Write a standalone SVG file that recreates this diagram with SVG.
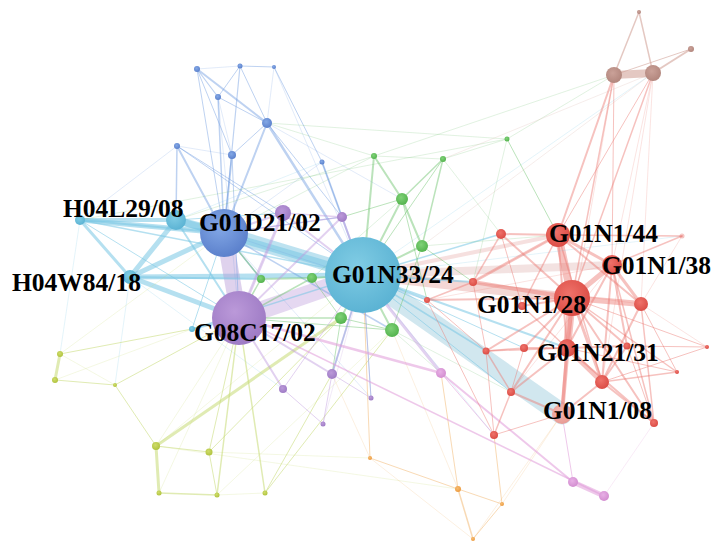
<svg xmlns="http://www.w3.org/2000/svg" width="714" height="542" viewBox="0 0 714 542">
<defs>
<radialGradient id="gBlue" cx=".42" cy=".38" r=".65"><stop offset="0" stop-color="#83a8e6"/><stop offset="1" stop-color="#5a7fcb"/></radialGradient>
<radialGradient id="gTeal" cx=".42" cy=".38" r=".65"><stop offset="0" stop-color="#80cce4"/><stop offset="1" stop-color="#5ab2d3"/></radialGradient>
<radialGradient id="gPur" cx=".42" cy=".38" r=".65"><stop offset="0" stop-color="#bb99d9"/><stop offset="1" stop-color="#9d7ac4"/></radialGradient>
<radialGradient id="gPink" cx=".42" cy=".38" r=".65"><stop offset="0" stop-color="#e8b0e6"/><stop offset="1" stop-color="#d28ccf"/></radialGradient>
<radialGradient id="gGreen" cx=".42" cy=".38" r=".65"><stop offset="0" stop-color="#80d278"/><stop offset="1" stop-color="#52b24c"/></radialGradient>
<radialGradient id="gYel" cx=".42" cy=".38" r=".65"><stop offset="0" stop-color="#cfdc6a"/><stop offset="1" stop-color="#afc23c"/></radialGradient>
<radialGradient id="gOra" cx=".42" cy=".38" r=".65"><stop offset="0" stop-color="#f6bb70"/><stop offset="1" stop-color="#ec9a3e"/></radialGradient>
<radialGradient id="gRed" cx=".42" cy=".38" r=".65"><stop offset="0" stop-color="#ef726a"/><stop offset="1" stop-color="#da4b44"/></radialGradient>
<radialGradient id="gLRed" cx=".42" cy=".38" r=".65"><stop offset="0" stop-color="#f4b8b2"/><stop offset="1" stop-color="#e89a93"/></radialGradient>
<radialGradient id="gBr" cx=".42" cy=".38" r=".65"><stop offset="0" stop-color="#caa198"/><stop offset="1" stop-color="#b1857c"/></radialGradient>
</defs>
<style>
line{fill:none;stroke-linecap:round}
.eb{stroke:#6e9be0;stroke-opacity:.45}
.et{stroke:#79c6e4;stroke-opacity:.55}
.eg{stroke:#68c068;stroke-opacity:.45}
.ey{stroke:#c6da74;stroke-opacity:.55}
.eo{stroke:#f2b46a;stroke-opacity:.5}
.ep{stroke:#bf98de;stroke-opacity:.45}
.epk{stroke:#e09ad8;stroke-opacity:.55}
.er{stroke:#ec7870;stroke-opacity:.45}
.ebr{stroke:#d2a49a;stroke-opacity:.6}
.f{stroke-opacity:.2}
.nb{fill:url(#gBlue)}.nt{fill:url(#gTeal)}.np{fill:url(#gPur)}.npk{fill:url(#gPink)}
.ng{fill:url(#gGreen)}.ny{fill:url(#gYel)}.no{fill:url(#gOra)}.nr{fill:url(#gRed)}
.nl{fill:url(#gLRed)}.nbr{fill:url(#gBr)}
.lab{font-family:"Liberation Serif","Times New Roman",serif;font-weight:bold;font-size:25.5px;fill:#000}
</style>
<rect width="714" height="542" fill="#fff"/>
<g id="connectors">
<line x1="363" y1="275" x2="562" y2="414" stroke="#b3d7e5" stroke-opacity=".6" stroke-width="21"/>
<line x1="363" y1="275" x2="224" y2="233" stroke="#7cc6e2" stroke-opacity=".5" stroke-width="14"/>
<line x1="363" y1="275" x2="176" y2="220" class="et" stroke-width="7"/>
<line x1="363" y1="275" x2="130" y2="277" class="et" stroke-width="5"/>
<line x1="363" y1="275" x2="239" y2="318" stroke="#c6a8e0" stroke-opacity=".45" stroke-width="18"/>
<line x1="224" y1="233" x2="239" y2="318" stroke="#b99cd8" stroke-opacity=".45" stroke-width="16"/>
<line x1="224" y1="233" x2="176" y2="220" class="et" stroke-width="8"/>
<line x1="224" y1="233" x2="80" y2="220" class="et" stroke-width="5"/>
<line x1="80" y1="220" x2="176" y2="220" class="et" stroke-width="4"/>
<line x1="176" y1="220" x2="130" y2="277" class="et" stroke-width="5"/>
<line x1="130" y1="277" x2="224" y2="233" class="et" stroke-width="5"/>
<line x1="130" y1="277" x2="239" y2="318" class="et" stroke-width="5"/>
<line x1="80" y1="220" x2="130" y2="277" class="et" stroke-width="3"/>
<line x1="363" y1="275" x2="572" y2="298" stroke="#e6a6a2" stroke-opacity=".45" stroke-width="10"/>
<line x1="363" y1="275" x2="612" y2="265" stroke="#e2b6b4" stroke-opacity=".4" stroke-width="8"/>
<line x1="363" y1="275" x2="558" y2="235" stroke="#e6a6a2" stroke-opacity=".35" stroke-width="4"/>
<line x1="558" y1="235" x2="572" y2="298" class="er" stroke-width="8"/>
<line x1="572" y1="298" x2="567" y2="348" class="er" stroke-width="8"/>
<line x1="572" y1="298" x2="641" y2="304" class="er" stroke-width="6"/>
<line x1="572" y1="298" x2="612" y2="265" class="er" stroke-width="5"/>
<line x1="567" y1="348" x2="602" y2="382" class="er" stroke-width="5"/>
<line x1="614" y1="75" x2="653" y2="73" class="ebr" stroke-width="8"/>
<line x1="573" y1="482" x2="604" y2="496" class="epk" stroke-width="5"/>
<line x1="60" y1="354" x2="55" y2="380" class="ey" stroke-width="3"/>
<line x1="156" y1="446" x2="159" y2="493" class="ey" stroke-width="3"/>
<line x1="156" y1="446" x2="341" y2="318" class="ey" stroke-width="3"/>
<line x1="197" y1="69" x2="240" y2="66" class="eb f" stroke-width="1"/>
<line x1="240" y1="66" x2="274" y2="67" class="eb" stroke-width="1"/>
<line x1="197" y1="69" x2="218" y2="97" class="eb" stroke-width="1.2"/>
<line x1="197" y1="69" x2="267" y2="123" class="eb" stroke-width="2"/>
<line x1="197" y1="69" x2="224" y2="233" class="eb" stroke-width="1"/>
<line x1="197" y1="69" x2="232" y2="155" class="eb" stroke-width="1"/>
<line x1="240" y1="66" x2="218" y2="97" class="eb" stroke-width="1"/>
<line x1="240" y1="66" x2="224" y2="233" class="eb" stroke-width="1.2"/>
<line x1="240" y1="66" x2="267" y2="123" class="eb" stroke-width="1"/>
<line x1="274" y1="67" x2="322" y2="162" class="eb" stroke-width="1"/>
<line x1="274" y1="67" x2="267" y2="123" class="eb f" stroke-width="1"/>
<line x1="274" y1="67" x2="363" y2="275" class="eb f" stroke-width="1"/>
<line x1="218" y1="97" x2="224" y2="233" class="eb" stroke-width="1.5"/>
<line x1="218" y1="97" x2="267" y2="123" class="eb" stroke-width="1"/>
<line x1="218" y1="97" x2="239" y2="318" class="eb f" stroke-width="1"/>
<line x1="267" y1="123" x2="224" y2="233" class="eb" stroke-width="2"/>
<line x1="267" y1="123" x2="363" y2="275" class="eb" stroke-width="2.5"/>
<line x1="267" y1="123" x2="232" y2="155" class="eb" stroke-width="1"/>
<line x1="267" y1="123" x2="402" y2="199" class="eb f" stroke-width="1"/>
<line x1="267" y1="123" x2="342" y2="217" class="eb" stroke-width="1"/>
<line x1="267" y1="123" x2="507" y2="139" class="eg f" stroke-width="1"/>
<line x1="177" y1="146" x2="224" y2="233" class="eb" stroke-width="2"/>
<line x1="177" y1="146" x2="176" y2="220" class="eb" stroke-width="1.5"/>
<line x1="177" y1="146" x2="232" y2="155" class="eb f" stroke-width="1"/>
<line x1="177" y1="146" x2="363" y2="275" class="eb" stroke-width="1"/>
<line x1="177" y1="146" x2="283" y2="213" class="eb" stroke-width="1"/>
<line x1="177" y1="146" x2="80" y2="220" class="eb f" stroke-width="1"/>
<line x1="232" y1="155" x2="224" y2="233" class="eb" stroke-width="2"/>
<line x1="232" y1="155" x2="239" y2="318" class="eb" stroke-width="1"/>
<line x1="232" y1="155" x2="218" y2="97" class="eb f" stroke-width="1"/>
<line x1="322" y1="162" x2="363" y2="275" class="eb" stroke-width="2"/>
<line x1="322" y1="162" x2="342" y2="217" class="eb" stroke-width="1"/>
<line x1="322" y1="162" x2="224" y2="233" class="eb f" stroke-width="1"/>
<line x1="224" y1="233" x2="261" y2="279" class="eb" stroke-width="1.5"/>
<line x1="224" y1="233" x2="342" y2="217" class="eb" stroke-width="1"/>
<line x1="224" y1="233" x2="427" y2="300" class="eb f" stroke-width="1"/>
<line x1="224" y1="233" x2="392" y2="330" class="eb" stroke-width="1.5"/>
<line x1="224" y1="233" x2="371" y2="398" class="eb f" stroke-width="1"/>
<line x1="80" y1="220" x2="363" y2="275" class="et" stroke-width="1.5"/>
<line x1="80" y1="220" x2="239" y2="318" class="et" stroke-width="1"/>
<line x1="176" y1="220" x2="239" y2="318" class="et" stroke-width="2"/>
<line x1="130" y1="277" x2="261" y2="279" class="et" stroke-width="2"/>
<line x1="192" y1="329" x2="224" y2="233" class="et" stroke-width="1"/>
<line x1="192" y1="329" x2="363" y2="275" class="et" stroke-width="1.5"/>
<line x1="192" y1="329" x2="239" y2="318" class="et" stroke-width="2"/>
<line x1="176" y1="220" x2="283" y2="213" class="et" stroke-width="1"/>
<line x1="363" y1="275" x2="473" y2="282" class="et" stroke-width="2"/>
<line x1="363" y1="275" x2="427" y2="300" class="et" stroke-width="1.5"/>
<line x1="363" y1="275" x2="486" y2="351" class="et" stroke-width="1.5"/>
<line x1="363" y1="275" x2="511" y2="392" class="et" stroke-width="1"/>
<line x1="363" y1="275" x2="501" y2="234" class="et" stroke-width="1.5"/>
<line x1="363" y1="275" x2="653" y2="73" class="et f" stroke-width="1"/>
<line x1="363" y1="275" x2="682" y2="236" class="et f" stroke-width="1"/>
<line x1="363" y1="275" x2="567" y2="348" class="et" stroke-width="2"/>
<line x1="363" y1="275" x2="524" y2="348" class="et" stroke-width="1"/>
<line x1="363" y1="275" x2="371" y2="398" class="et" stroke-width="1"/>
<line x1="363" y1="275" x2="332" y2="374" class="et" stroke-width="1.5"/>
<line x1="363" y1="275" x2="494" y2="435" class="et f" stroke-width="1"/>
<line x1="130" y1="277" x2="115" y2="385" class="et f" stroke-width="1"/>
<line x1="80" y1="220" x2="60" y2="354" class="et f" stroke-width="1"/>
<line x1="130" y1="277" x2="283" y2="389" class="et f" stroke-width="1"/>
<line x1="176" y1="220" x2="322" y2="162" class="et f" stroke-width="1"/>
<line x1="80" y1="220" x2="224" y2="233" class="et" stroke-width="2"/>
<line x1="374" y1="156" x2="402" y2="199" class="eg" stroke-width="2"/>
<line x1="374" y1="156" x2="363" y2="275" class="eg" stroke-width="2"/>
<line x1="374" y1="156" x2="443" y2="159" class="eg f" stroke-width="1"/>
<line x1="443" y1="159" x2="507" y2="139" class="eg f" stroke-width="1"/>
<line x1="443" y1="159" x2="402" y2="199" class="eg" stroke-width="1.5"/>
<line x1="443" y1="159" x2="422" y2="246" class="eg" stroke-width="1.5"/>
<line x1="507" y1="139" x2="558" y2="235" class="eg" stroke-width="1"/>
<line x1="507" y1="139" x2="473" y2="282" class="eg f" stroke-width="1"/>
<line x1="402" y1="199" x2="422" y2="246" class="eg" stroke-width="2"/>
<line x1="402" y1="199" x2="363" y2="275" class="eg" stroke-width="2"/>
<line x1="422" y1="246" x2="363" y2="275" class="eg" stroke-width="2"/>
<line x1="422" y1="246" x2="392" y2="330" class="eg" stroke-width="1"/>
<line x1="422" y1="246" x2="473" y2="282" class="eg" stroke-width="1"/>
<line x1="261" y1="279" x2="312" y2="278" class="eg" stroke-width="2"/>
<line x1="312" y1="278" x2="363" y2="275" class="eg" stroke-width="2"/>
<line x1="261" y1="279" x2="224" y2="233" class="eg" stroke-width="1.5"/>
<line x1="341" y1="318" x2="363" y2="275" class="eg" stroke-width="2"/>
<line x1="392" y1="330" x2="363" y2="275" class="eg" stroke-width="2"/>
<line x1="341" y1="318" x2="392" y2="330" class="eg" stroke-width="1"/>
<line x1="402" y1="199" x2="342" y2="217" class="eg" stroke-width="1"/>
<line x1="261" y1="279" x2="239" y2="318" class="eg" stroke-width="1.5"/>
<line x1="312" y1="278" x2="341" y2="318" class="eg" stroke-width="1"/>
<line x1="312" y1="278" x2="239" y2="318" class="eg" stroke-width="1.5"/>
<line x1="341" y1="318" x2="239" y2="318" class="eg" stroke-width="1.5"/>
<line x1="392" y1="330" x2="239" y2="318" class="eg" stroke-width="1"/>
<line x1="392" y1="330" x2="441" y2="373" class="eg f" stroke-width="1"/>
<line x1="374" y1="156" x2="224" y2="233" class="eg f" stroke-width="1"/>
<line x1="374" y1="156" x2="267" y2="123" class="eg f" stroke-width="1"/>
<line x1="402" y1="199" x2="427" y2="300" class="eg" stroke-width="1"/>
<line x1="422" y1="246" x2="558" y2="235" class="eg f" stroke-width="1"/>
<line x1="443" y1="159" x2="501" y2="234" class="eg f" stroke-width="1"/>
<line x1="374" y1="156" x2="176" y2="220" class="eg f" stroke-width="1"/>
<line x1="341" y1="318" x2="332" y2="374" class="eg" stroke-width="1"/>
<line x1="392" y1="330" x2="511" y2="392" class="eg f" stroke-width="1"/>
<line x1="402" y1="199" x2="312" y2="278" class="eg f" stroke-width="1"/>
<line x1="443" y1="159" x2="363" y2="275" class="eg" stroke-width="1"/>
<line x1="507" y1="139" x2="80" y2="220" class="eg f" stroke-width="1"/>
<line x1="60" y1="354" x2="115" y2="385" class="ey f" stroke-width="1"/>
<line x1="55" y1="380" x2="115" y2="385" class="ey" stroke-width="1"/>
<line x1="115" y1="385" x2="156" y2="446" class="ey" stroke-width="1"/>
<line x1="115" y1="385" x2="239" y2="318" class="ey" stroke-width="1"/>
<line x1="60" y1="354" x2="192" y2="329" class="ey" stroke-width="1"/>
<line x1="55" y1="380" x2="192" y2="329" class="ey f" stroke-width="1"/>
<line x1="156" y1="446" x2="209" y2="452" class="ey" stroke-width="1"/>
<line x1="156" y1="446" x2="239" y2="318" class="ey f" stroke-width="1"/>
<line x1="209" y1="452" x2="217" y2="495" class="ey" stroke-width="1"/>
<line x1="159" y1="493" x2="217" y2="495" class="ey" stroke-width="1.5"/>
<line x1="217" y1="495" x2="239" y2="318" class="ey" stroke-width="1.5"/>
<line x1="265" y1="493" x2="239" y2="318" class="ey" stroke-width="1.5"/>
<line x1="209" y1="452" x2="239" y2="318" class="ey" stroke-width="1"/>
<line x1="209" y1="452" x2="341" y2="318" class="ey" stroke-width="1"/>
<line x1="265" y1="493" x2="332" y2="374" class="ey" stroke-width="1"/>
<line x1="265" y1="493" x2="392" y2="330" class="ey" stroke-width="1"/>
<line x1="156" y1="446" x2="458" y2="489" class="ey f" stroke-width="1"/>
<line x1="209" y1="452" x2="370" y2="458" class="ey f" stroke-width="1"/>
<line x1="217" y1="495" x2="265" y2="493" class="ey f" stroke-width="1"/>
<line x1="159" y1="493" x2="239" y2="318" class="ey f" stroke-width="1"/>
<line x1="60" y1="354" x2="224" y2="233" class="ey f" stroke-width="1"/>
<line x1="156" y1="446" x2="363" y2="275" class="ey f" stroke-width="1"/>
<line x1="217" y1="495" x2="392" y2="330" class="ey f" stroke-width="1"/>
<line x1="370" y1="458" x2="458" y2="489" class="eo" stroke-width="1"/>
<line x1="458" y1="489" x2="502" y2="504" class="eo" stroke-width="1"/>
<line x1="458" y1="489" x2="473" y2="539" class="eo" stroke-width="1.5"/>
<line x1="502" y1="504" x2="473" y2="539" class="eo" stroke-width="1"/>
<line x1="370" y1="458" x2="473" y2="539" class="eo f" stroke-width="1"/>
<line x1="458" y1="489" x2="441" y2="373" class="eo" stroke-width="1"/>
<line x1="502" y1="504" x2="494" y2="435" class="eo" stroke-width="1"/>
<line x1="370" y1="458" x2="363" y2="275" class="eo" stroke-width="1"/>
<line x1="370" y1="458" x2="332" y2="374" class="eo f" stroke-width="1"/>
<line x1="458" y1="489" x2="392" y2="330" class="eo f" stroke-width="1"/>
<line x1="502" y1="504" x2="562" y2="414" class="eo f" stroke-width="1"/>
<line x1="473" y1="539" x2="562" y2="414" class="eo f" stroke-width="1"/>
<line x1="239" y1="318" x2="283" y2="213" class="ep" stroke-width="3"/>
<line x1="239" y1="318" x2="342" y2="217" class="ep" stroke-width="2"/>
<line x1="283" y1="213" x2="224" y2="233" class="ep" stroke-width="2"/>
<line x1="283" y1="213" x2="342" y2="217" class="ep" stroke-width="1.5"/>
<line x1="342" y1="217" x2="363" y2="275" class="ep" stroke-width="2"/>
<line x1="239" y1="318" x2="332" y2="374" class="ep" stroke-width="2"/>
<line x1="239" y1="318" x2="283" y2="389" class="ep" stroke-width="2"/>
<line x1="332" y1="374" x2="323" y2="424" class="ep" stroke-width="1"/>
<line x1="283" y1="389" x2="323" y2="424" class="ep" stroke-width="1"/>
<line x1="332" y1="374" x2="363" y2="275" class="ep" stroke-width="2"/>
<line x1="371" y1="398" x2="363" y2="275" class="ep" stroke-width="1"/>
<line x1="371" y1="398" x2="332" y2="374" class="ep" stroke-width="1"/>
<line x1="283" y1="389" x2="363" y2="275" class="ep" stroke-width="1"/>
<line x1="239" y1="318" x2="441" y2="373" class="epk" stroke-width="2.5"/>
<line x1="441" y1="373" x2="363" y2="275" class="ep" stroke-width="3"/>
<line x1="441" y1="373" x2="573" y2="482" class="epk" stroke-width="2"/>
<line x1="239" y1="318" x2="604" y2="496" class="epk" stroke-width="1.5"/>
<line x1="283" y1="213" x2="363" y2="275" class="ep" stroke-width="2"/>
<line x1="224" y1="233" x2="342" y2="217" class="ep" stroke-width="1.5"/>
<line x1="323" y1="424" x2="363" y2="275" class="ep f" stroke-width="1"/>
<line x1="441" y1="373" x2="494" y2="435" class="epk" stroke-width="1"/>
<line x1="573" y1="482" x2="562" y2="414" class="epk" stroke-width="1"/>
<line x1="604" y1="496" x2="654" y2="423" class="epk f" stroke-width="1"/>
<line x1="283" y1="213" x2="239" y2="318" class="ep f" stroke-width="1"/>
<line x1="558" y1="235" x2="501" y2="234" class="er" stroke-width="2"/>
<line x1="558" y1="235" x2="612" y2="265" class="er" stroke-width="3"/>
<line x1="558" y1="235" x2="473" y2="282" class="er" stroke-width="3"/>
<line x1="558" y1="235" x2="641" y2="304" class="er" stroke-width="2"/>
<line x1="558" y1="235" x2="682" y2="236" class="er" stroke-width="1.5"/>
<line x1="558" y1="235" x2="567" y2="348" class="er" stroke-width="2"/>
<line x1="558" y1="235" x2="602" y2="382" class="er" stroke-width="1.5"/>
<line x1="558" y1="235" x2="614" y2="75" class="er" stroke-width="2"/>
<line x1="558" y1="235" x2="653" y2="73" class="er" stroke-width="1"/>
<line x1="558" y1="235" x2="522" y2="306" class="er" stroke-width="1.5"/>
<line x1="572" y1="298" x2="473" y2="282" class="er" stroke-width="4"/>
<line x1="572" y1="298" x2="427" y2="300" class="er" stroke-width="2"/>
<line x1="572" y1="298" x2="522" y2="306" class="er" stroke-width="2"/>
<line x1="572" y1="298" x2="486" y2="351" class="er" stroke-width="2"/>
<line x1="572" y1="298" x2="524" y2="348" class="er" stroke-width="2"/>
<line x1="572" y1="298" x2="602" y2="382" class="er" stroke-width="3"/>
<line x1="572" y1="298" x2="627" y2="346" class="er" stroke-width="2"/>
<line x1="572" y1="298" x2="511" y2="392" class="er" stroke-width="2"/>
<line x1="572" y1="298" x2="562" y2="414" class="er" stroke-width="4"/>
<line x1="572" y1="298" x2="654" y2="423" class="er" stroke-width="2"/>
<line x1="572" y1="298" x2="707" y2="347" class="er" stroke-width="1"/>
<line x1="572" y1="298" x2="677" y2="372" class="er" stroke-width="1.5"/>
<line x1="612" y1="265" x2="641" y2="304" class="er" stroke-width="3"/>
<line x1="612" y1="265" x2="627" y2="346" class="er" stroke-width="2"/>
<line x1="612" y1="265" x2="602" y2="382" class="er" stroke-width="2"/>
<line x1="612" y1="265" x2="682" y2="236" class="er" stroke-width="1.5"/>
<line x1="612" y1="265" x2="653" y2="73" class="er f" stroke-width="1"/>
<line x1="612" y1="265" x2="654" y2="423" class="er" stroke-width="1.5"/>
<line x1="612" y1="265" x2="567" y2="348" class="er" stroke-width="2"/>
<line x1="612" y1="265" x2="511" y2="392" class="er f" stroke-width="1"/>
<line x1="567" y1="348" x2="524" y2="348" class="er" stroke-width="2"/>
<line x1="567" y1="348" x2="486" y2="351" class="er" stroke-width="1.5"/>
<line x1="567" y1="348" x2="511" y2="392" class="er" stroke-width="2"/>
<line x1="567" y1="348" x2="562" y2="414" class="er" stroke-width="3"/>
<line x1="567" y1="348" x2="627" y2="346" class="er" stroke-width="2"/>
<line x1="567" y1="348" x2="654" y2="423" class="er" stroke-width="2"/>
<line x1="567" y1="348" x2="677" y2="372" class="er" stroke-width="1"/>
<line x1="602" y1="382" x2="654" y2="423" class="er" stroke-width="2"/>
<line x1="602" y1="382" x2="677" y2="372" class="er" stroke-width="1.5"/>
<line x1="602" y1="382" x2="707" y2="347" class="er" stroke-width="1"/>
<line x1="602" y1="382" x2="562" y2="414" class="er" stroke-width="2"/>
<line x1="602" y1="382" x2="627" y2="346" class="er" stroke-width="2"/>
<line x1="486" y1="351" x2="511" y2="392" class="er" stroke-width="1.5"/>
<line x1="486" y1="351" x2="494" y2="435" class="er" stroke-width="1"/>
<line x1="486" y1="351" x2="524" y2="348" class="er" stroke-width="1.5"/>
<line x1="511" y1="392" x2="494" y2="435" class="er" stroke-width="1.5"/>
<line x1="511" y1="392" x2="562" y2="414" class="er" stroke-width="2"/>
<line x1="654" y1="423" x2="641" y2="304" class="er" stroke-width="1.5"/>
<line x1="654" y1="423" x2="627" y2="346" class="er" stroke-width="1"/>
<line x1="494" y1="435" x2="427" y2="300" class="er" stroke-width="1"/>
<line x1="494" y1="435" x2="562" y2="414" class="er" stroke-width="1"/>
<line x1="427" y1="300" x2="473" y2="282" class="er" stroke-width="1.5"/>
<line x1="501" y1="234" x2="473" y2="282" class="er" stroke-width="1.5"/>
<line x1="501" y1="234" x2="572" y2="298" class="er" stroke-width="2"/>
<line x1="501" y1="234" x2="522" y2="306" class="er" stroke-width="1"/>
<line x1="627" y1="346" x2="707" y2="347" class="er" stroke-width="1"/>
<line x1="707" y1="347" x2="641" y2="304" class="er f" stroke-width="1"/>
<line x1="677" y1="372" x2="641" y2="304" class="er" stroke-width="1"/>
<line x1="682" y1="236" x2="641" y2="304" class="er f" stroke-width="1"/>
<line x1="473" y1="282" x2="486" y2="351" class="er" stroke-width="1"/>
<line x1="427" y1="300" x2="486" y2="351" class="er" stroke-width="1"/>
<line x1="522" y1="306" x2="567" y2="348" class="er" stroke-width="1.5"/>
<line x1="524" y1="348" x2="511" y2="392" class="er" stroke-width="1"/>
<line x1="641" y1="304" x2="602" y2="382" class="er" stroke-width="2"/>
<line x1="473" y1="282" x2="641" y2="304" class="er f" stroke-width="1"/>
<line x1="427" y1="300" x2="612" y2="265" class="er f" stroke-width="1"/>
<line x1="473" y1="282" x2="558" y2="235" class="er f" stroke-width="1"/>
<line x1="614" y1="75" x2="572" y2="298" class="er" stroke-width="1.5"/>
<line x1="653" y1="73" x2="572" y2="298" class="er" stroke-width="1.5"/>
<line x1="653" y1="73" x2="641" y2="304" class="er f" stroke-width="1"/>
<line x1="614" y1="75" x2="567" y2="348" class="er f" stroke-width="1"/>
<line x1="653" y1="73" x2="602" y2="382" class="er f" stroke-width="1"/>
<line x1="614" y1="75" x2="612" y2="265" class="er" stroke-width="1"/>
<line x1="614" y1="75" x2="507" y2="139" class="eg f" stroke-width="1"/>
<line x1="614" y1="75" x2="374" y2="156" class="eg f" stroke-width="1"/>
<line x1="653" y1="73" x2="443" y2="159" class="ebr f" stroke-width="1"/>
<line x1="653" y1="73" x2="422" y2="246" class="ebr f" stroke-width="1"/>
<line x1="639" y1="12" x2="614" y2="75" class="ebr" stroke-width="1.5"/>
<line x1="639" y1="12" x2="653" y2="73" class="ebr" stroke-width="1.5"/>
<line x1="691" y1="49" x2="653" y2="73" class="ebr" stroke-width="2"/>
<line x1="691" y1="49" x2="614" y2="75" class="ebr" stroke-width="1"/>
</g>
<g id="n-b1"><circle cx="197" cy="69" r="3" class="nb"/></g>
<g id="n-b2"><circle cx="240" cy="66" r="2.5" class="nb"/></g>
<g id="n-b3"><circle cx="274" cy="67" r="2" class="nb"/></g>
<g id="n-b4"><circle cx="218" cy="97" r="3" class="nb"/></g>
<g id="n-b5"><circle cx="267" cy="123" r="5" class="nb"/></g>
<g id="n-b6"><circle cx="177" cy="146" r="3" class="nb"/></g>
<g id="n-b7"><circle cx="232" cy="155" r="4" class="nb"/></g>
<g id="n-b8"><circle cx="322" cy="162" r="2.5" class="nb"/></g>
<g id="n-t2"><circle cx="176" cy="220" r="10" class="nt"/></g>
<g id="n-t4"><circle cx="192" cy="329" r="3" class="nt"/></g>
<g id="n-p1"><circle cx="283" cy="213" r="8" class="np"/></g>
<g id="n-p2"><circle cx="342" cy="217" r="5" class="np"/></g>
<g id="n-p3"><circle cx="332" cy="374" r="5" class="np"/></g>
<g id="n-p4"><circle cx="283" cy="389" r="4" class="np"/></g>
<g id="n-p5"><circle cx="323" cy="424" r="2.5" class="np"/></g>
<g id="n-p6"><circle cx="371" cy="398" r="2.5" class="np"/></g>
<g id="n-p7"><circle cx="441" cy="373" r="5" class="npk"/></g>
<g id="n-p8"><circle cx="573" cy="482" r="5" class="npk"/></g>
<g id="n-p9"><circle cx="604" cy="496" r="5" class="npk"/></g>
<g id="n-g1"><circle cx="374" cy="156" r="3" class="ng"/></g>
<g id="n-g2"><circle cx="443" cy="159" r="3" class="ng"/></g>
<g id="n-g3"><circle cx="507" cy="139" r="2.5" class="ng"/></g>
<g id="n-g4"><circle cx="402" cy="199" r="6" class="ng"/></g>
<g id="n-g5"><circle cx="422" cy="246" r="6" class="ng"/></g>
<g id="n-g6"><circle cx="261" cy="279" r="4" class="ng"/></g>
<g id="n-g7"><circle cx="312" cy="278" r="5" class="ng"/></g>
<g id="n-g8"><circle cx="341" cy="318" r="6" class="ng"/></g>
<g id="n-g9"><circle cx="392" cy="330" r="7" class="ng"/></g>
<g id="n-y1"><circle cx="60" cy="354" r="3" class="ny"/></g>
<g id="n-y2"><circle cx="55" cy="380" r="3" class="ny"/></g>
<g id="n-y3"><circle cx="115" cy="385" r="2" class="ny"/></g>
<g id="n-y4"><circle cx="156" cy="446" r="4" class="ny"/></g>
<g id="n-y5"><circle cx="209" cy="452" r="3.5" class="ny"/></g>
<g id="n-y6"><circle cx="159" cy="493" r="2.5" class="ny"/></g>
<g id="n-y7"><circle cx="217" cy="495" r="2.5" class="ny"/></g>
<g id="n-y8"><circle cx="265" cy="493" r="2.5" class="ny"/></g>
<g id="n-o1"><circle cx="370" cy="458" r="2" class="no"/></g>
<g id="n-o2"><circle cx="458" cy="489" r="3" class="no"/></g>
<g id="n-o3"><circle cx="502" cy="504" r="2" class="no"/></g>
<g id="n-o4"><circle cx="473" cy="539" r="2" class="no"/></g>
<g id="n-r1"><circle cx="501" cy="234" r="5" class="nr"/></g>
<g id="n-r2"><circle cx="682" cy="236" r="2.5" class="nr" opacity=".35"/></g>
<g id="n-r3"><circle cx="473" cy="282" r="4" class="nr"/></g>
<g id="n-r4"><circle cx="427" cy="300" r="3" class="nr"/></g>
<g id="n-r5"><circle cx="522" cy="306" r="4" class="nr"/></g>
<g id="n-r6"><circle cx="641" cy="304" r="7" class="nr"/></g>
<g id="n-r7"><circle cx="486" cy="351" r="3.5" class="nr"/></g>
<g id="n-r8"><circle cx="524" cy="348" r="4" class="nr"/></g>
<g id="n-r9"><circle cx="627" cy="346" r="3.5" class="nr"/></g>
<g id="n-r10"><circle cx="707" cy="347" r="2" class="nr"/></g>
<g id="n-r11"><circle cx="677" cy="372" r="2" class="nr"/></g>
<g id="n-r12"><circle cx="602" cy="382" r="7" class="nr"/></g>
<g id="n-r13"><circle cx="511" cy="392" r="4" class="nr"/></g>
<g id="n-r14"><circle cx="654" cy="423" r="4" class="nr"/></g>
<g id="n-r15"><circle cx="494" cy="435" r="4" class="nr"/></g>
<g id="n-br1"><circle cx="639" cy="12" r="2" class="nbr"/></g>
<g id="n-br2"><circle cx="691" cy="49" r="3" class="nbr"/></g>
<g id="n-br3"><circle cx="614" cy="75" r="8" class="nbr"/></g>
<g id="n-br4"><circle cx="653" cy="73" r="8" class="nbr"/></g>
<g id="n-H04L29-08"><circle cx="80" cy="220" r="5" class="nt"/><text x="63" y="217" class="lab">H04L29/08</text></g>
<g id="n-H04W84-18"><circle cx="130" cy="277" r="7" class="nt"/><text x="12" y="291" class="lab">H04W84/18</text></g>
<g id="n-G01D21-02"><circle cx="224" cy="233" r="24" class="nb"/><text x="199" y="231" class="lab">G01D21/02</text></g>
<g id="n-G08C17-02"><circle cx="239" cy="318" r="27" class="np"/><text x="194" y="341" class="lab">G08C17/02</text></g>
<g id="n-G01N33-24"><circle cx="363" cy="275" r="38" class="nt"/><text x="332" y="283" class="lab">G01N33/24</text></g>
<g id="n-G01N1-44"><circle cx="558" cy="235" r="12" class="nr"/><text x="549" y="242" class="lab">G01N1/44</text></g>
<g id="n-G01N1-38"><circle cx="612" cy="265" r="10" class="nr"/><text x="602" y="274" class="lab">G01N1/38</text></g>
<g id="n-G01N1-28"><circle cx="572" cy="298" r="18" class="nr"/><text x="477" y="313" class="lab">G01N1/28</text></g>
<g id="n-G01N21-31"><circle cx="567" cy="348" r="9" class="nr"/><text x="537" y="361" class="lab">G01N21/31</text></g>
<g id="n-G01N1-08"><circle cx="562" cy="414" r="10" class="nl"/><text x="543" y="419" class="lab">G01N1/08</text></g>
</svg>
